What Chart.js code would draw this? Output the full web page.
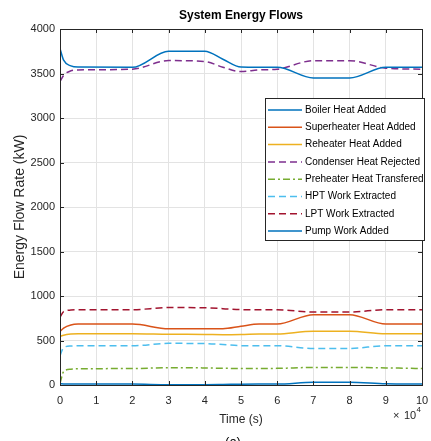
<!DOCTYPE html>
<html>
<head>
<meta charset="utf-8">
<script src="https://cdn.jsdelivr.net/npm/chart.js@4.4.1/dist/chart.umd.min.js"></script>
<style>
  html, body { margin: 0; padding: 0; background: #fff; }
  #wrap { width: 431px; height: 441px; }
</style>
</head>
<body>
<div id="wrap"><canvas id="myChart" width="431" height="441"></canvas></div>
<script>

// time in s
const times = [0, 1000, 3000, 5000, 20000, 30000, 40000, 45000, 50000, 55000, 60000, 70000, 80000, 90000, 100000];

const boilerHeat    = [3780, 3650, 3585, 3572, 3570, 3750, 3750, 3660, 3572, 3570, 3570, 3450, 3450, 3570, 3570];
const superHeat     = [600, 640, 675, 684, 685, 632, 632, 632, 660, 684, 685, 790, 790, 685, 685];
const reheatHeat    = [545, 560, 572, 575, 576, 570, 568, 565, 567, 572, 574, 603, 603, 575, 575];
const condenserHeat = [3410, 3480, 3530, 3540, 3548, 3645, 3635, 3570, 3522, 3540, 3548, 3644, 3644, 3560, 3548];
const preheatHeat   = [20, 150, 178, 182, 185, 195, 192, 188, 186, 186, 187, 197, 197, 192, 185];
const hptWork       = [330, 420, 438, 441, 441, 468, 465, 455, 442, 441, 441, 411, 411, 441, 441];
const lptWork       = [760, 825, 842, 845, 846, 870, 868, 858, 847, 846, 846, 820, 820, 846, 846];
const pumpWork      = [15, 12, 11, 10, 10, 4, 4, 6, 9, 10, 10, 32, 32, 15, 12];

const seriesNames = ["Boiler Heat Added", "Superheater Heat Added", "Reheater Heat Added", "Condenser Heat Rejected",
  "Preheater Heat Transfered", "HPT Work Extracted", "LPT Work Extracted", "Pump Work Added"];

const yTicks = [0, 500, 1000, 1500, 2000, 2500, 3000, 3500, 4000];
const xTicks = [0, 10000, 20000, 30000, 40000, 50000, 60000, 70000, 80000, 90000, 100000];

const FONT = "'Liberation Sans', Arial, Helvetica, sans-serif";
const AXC = '#262626';

function pts(vals) {
  return times.map((t, i) => ({ x: t, y: vals[i] }));
}

function ds(name, vals, color, dash) {
  return {
    label: name,
    data: pts(vals),
    borderColor: color,
    backgroundColor: color,
    borderWidth: 1.5,
    borderDash: dash || [],
    pointRadius: 0,
    cubicInterpolationMode: 'monotone',
    fill: false
  };
}

const datasets = [
  ds(seriesNames[0], boilerHeat, '#0072BD'),
  ds(seriesNames[1], superHeat, '#D95319'),
  ds(seriesNames[2], reheatHeat, '#EDB120'),
  ds(seriesNames[3], condenserHeat, '#7E2F8E', [7, 4]),
  ds(seriesNames[4], preheatHeat, '#77AC30', [7, 3, 2, 3]),
  ds(seriesNames[5], hptWork, '#4DBEEE', [7, 4]),
  ds(seriesNames[6], lptWork, '#A2142F', [7, 4]),
  ds(seriesNames[7], pumpWork, '#0072BD')
];

// box, inside ticks, title, legend, exponent
const matlabLook = {
  id: 'matlabLook',
  afterDraw(chart) {
    const ctx = chart.ctx;
    const a = chart.chartArea;
    const xs = chart.scales.x, ys = chart.scales.y;
    ctx.save();
    ctx.strokeStyle = AXC;
    ctx.lineWidth = 1;
    ctx.beginPath();
    xTicks.forEach(v => {
      const px = Math.round(xs.getPixelForValue(v)) + 0.5;
      ctx.moveTo(px, a.bottom); ctx.lineTo(px, a.bottom - 4);
      ctx.moveTo(px, a.top); ctx.lineTo(px, a.top + 4);
    });
    yTicks.forEach(v => {
      const py = Math.round(ys.getPixelForValue(v)) + 0.5;
      ctx.moveTo(a.left, py); ctx.lineTo(a.left + 4, py);
      ctx.moveTo(a.right, py); ctx.lineTo(a.right - 4, py);
    });
    ctx.stroke();
    ctx.strokeRect(Math.round(a.left) + 0.5, Math.round(a.top) + 0.5, Math.round(a.right - a.left), Math.round(a.bottom - a.top));

    // title
    ctx.fillStyle = '#000';
    ctx.font = 'bold 12px ' + FONT;
    ctx.textAlign = 'center';
    ctx.textBaseline = 'middle';
    ctx.fillText('System Energy Flows', (a.left + a.right) / 2, 16);

    // legend
    const lx = 265, ly = 98, lw = 159, lh = 142;
    ctx.fillStyle = '#fff';
    ctx.fillRect(lx, ly, lw, lh);
    ctx.strokeStyle = AXC;
    ctx.lineWidth = 1;
    ctx.strokeRect(lx + 0.5, ly + 0.5, lw, lh);
    ctx.font = '10px ' + FONT;
    ctx.textAlign = 'left';
    ctx.textBaseline = 'middle';
    chart.data.datasets.forEach((d, i) => {
      const yy = ly + 12 + i * 17.3;
      ctx.strokeStyle = d.borderColor;
      ctx.lineWidth = 1.5;
      ctx.setLineDash(d.borderDash);
      ctx.beginPath();
      ctx.moveTo(268, yy); ctx.lineTo(302, yy);
      ctx.stroke();
      ctx.setLineDash([]);
      ctx.fillStyle = '#000';
      ctx.fillText(d.label, 305, yy);
    });

    // x10^4
    ctx.fillStyle = AXC;
    ctx.font = '11px ' + FONT;
    ctx.textBaseline = 'alphabetic';
    ctx.fillText('\u00d7', 393, 419);
    ctx.fillText('10', 404, 419);
    ctx.font = '8px ' + FONT;
    ctx.fillText('4', 416.5, 412);

    // sub caption, cut off by the page edge
    ctx.font = '13px ' + FONT;
    ctx.textAlign = 'center';
    ctx.textBaseline = 'top';
    ctx.fillStyle = '#000';
    ctx.fillText('(a)', 233, 436);
    ctx.restore();
  }
};

const chart = new Chart(document.getElementById('myChart'), {
  type: 'line',
  data: { datasets: datasets },
  options: {
    responsive: false,
    animation: false,
    layout: { padding: { top: 29, right: 9, left: 0, bottom: 0 } },
    plugins: { legend: { display: false }, tooltip: { enabled: false } },
    scales: {
      x: {
        type: 'linear',
        min: 0, max: 100000,
        afterFit: s => { s.height = 56; s.paddingRight = 0; },
        afterBuildTicks: s => { s.ticks = xTicks.map(v => ({ value: v })); },
        grid: { color: '#e3e3e3', drawTicks: false },
        border: { display: false },
        ticks: {
          color: AXC, padding: 9, maxRotation: 0,
          font: { family: FONT, size: 11 },
          callback: v => String(v / 10000)
        },
        title: { display: true, text: 'Time (s)', color: AXC, font: { family: FONT, size: 12 }, padding: { top: 0, bottom: 14 } }
      },
      y: {
        min: 0, max: 4000,
        afterFit: s => { s.width = 60; },
        afterBuildTicks: s => { s.ticks = yTicks.map(v => ({ value: v })); },
        grid: { color: '#e3e3e3', drawTicks: false },
        border: { display: false },
        ticks: { color: AXC, padding: 5, font: { family: FONT, size: 11 }, callback: v => String(v) },
        title: { display: true, text: 'Energy Flow Rate (kW)', color: AXC, font: { family: FONT, size: 14 }, padding: { top: 12, bottom: 0 } }
      }
    }
  },
  plugins: [matlabLook]
});
</script>
</body>
</html>
